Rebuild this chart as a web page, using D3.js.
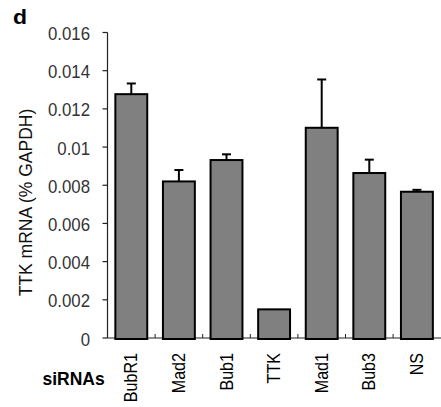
<!DOCTYPE html>
<html>
<head>
<meta charset="utf-8">
<script src="https://cdn.jsdelivr.net/npm/d3@7"></script>
<style>
  html, body { margin: 0; padding: 0; background: #fff; }
  svg { display: block; font-family: "Liberation Sans", Arial, sans-serif; }
</style>
</head>
<body>
<svg id="chart" width="441" height="407"></svg>
<script>
// TTK mRNA levels after each siRNA knockdown, relative to GAPDH
const categories = ["BubR1", "Mad2", "Bub1", "TTK", "Mad1", "Bub3", "NS"];
const means  = [0.01277, 0.0082, 0.00932, 0.0015, 0.01101, 0.00864, 0.00766];
const errors = [0.00056, 0.0006, 0.0003, 0, 0.00253, 0.0007, 0.0001];
const yTicks = [0, 0.002, 0.004, 0.006, 0.008, 0.01, 0.012, 0.014, 0.016];
const yTickLabels = ["0", "0.002", "0.004", "0.006", "0.008", "0.01", "0.012", "0.014", "0.016"];

const svg = d3.select("#chart");
const plotLeft = 107.5, plotRight = 441, plotTop = 32.5, plotBottom = 338;

const x = d3.scaleBand().domain(categories).range([plotLeft, plotLeft + 47.6 * 7])
  .paddingInner(0.33).paddingOuter(0.165);
const y = d3.scaleLinear().domain([0, 0.016]).range([plotBottom, plotTop]);

// text helper: scaled along (sx) and across (sy) the reading direction
function stretchedText(parent, tx, ty, rot, sx, sy, str, opts) {
  const g = parent.append("g").attr("transform", `translate(${tx},${ty}) rotate(${rot})`);
  return g.append("text")
    .attr("transform", `scale(${sx},${sy})`)
    .attr("font-size", opts.size)
    .attr("font-weight", opts.weight || "normal")
    .attr("text-anchor", opts.anchor || "start")
    .attr("fill", opts.fill || "#000")
    .text(str);
}

// y axis
svg.append("line").attr("x1", plotLeft).attr("x2", plotLeft).attr("y1", y(0.016)).attr("y2", plotBottom)
  .attr("stroke", "#222").attr("stroke-width", 1.2);
svg.selectAll(".ytick").data(yTicks).enter().append("line")
  .attr("x1", plotLeft - 5).attr("x2", plotLeft).attr("y1", d => y(d)).attr("y2", d => y(d))
  .attr("stroke", "#222").attr("stroke-width", 1.2);
yTicks.forEach((v, i) => {
  stretchedText(svg, 90, y(v) + 7.5, 0, 0.96, 1.1, yTickLabels[i], { size: 17.5, anchor: "end", fill: "#333" });
});

// x axis with small ticks between categories
svg.append("line").attr("x1", plotLeft).attr("x2", plotRight).attr("y1", plotBottom).attr("y2", plotBottom)
  .attr("stroke", "#222").attr("stroke-width", 1.2);
const gap = x.paddingInner() * x.step();
svg.selectAll(".xtick").data(categories.slice(1)).enter().append("line")
  .attr("x1", d => x(d) - gap / 2).attr("x2", d => x(d) - gap / 2)
  .attr("y1", plotBottom - 4).attr("y2", plotBottom)
  .attr("stroke", "#222").attr("stroke-width", 1);

// bars
svg.selectAll(".bar").data(categories).enter().append("rect")
  .attr("x", d => x(d))
  .attr("y", (d, i) => y(means[i]))
  .attr("width", x.bandwidth())
  .attr("height", (d, i) => plotBottom + 1 - y(means[i]))
  .attr("fill", "#808080")
  .attr("stroke", "#000")
  .attr("stroke-width", 2);

// error bars (upper only)
categories.forEach((c, i) => {
  if (errors[i] <= 0) return;
  const cx = x(c) + x.bandwidth() / 2;
  const yTop = y(means[i] + errors[i]);
  svg.append("line").attr("x1", cx).attr("x2", cx)
    .attr("y1", y(means[i])).attr("y2", yTop)
    .attr("stroke", "#000").attr("stroke-width", 2);
  svg.append("line").attr("x1", cx - 4.5).attr("x2", cx + 4.5)
    .attr("y1", yTop).attr("y2", yTop)
    .attr("stroke", "#000").attr("stroke-width", 2);
});

// category labels
categories.forEach(c => {
  const cx = x(c) + x.bandwidth() / 2;
  stretchedText(svg, cx + 6, 353, -90, 0.92, 1.05, c, { size: 17.5, anchor: "end" });
});

// axis title
stretchedText(svg, 32, 202.5, -90, 1.0, 1.0, "TTK mRNA (% GAPDH)", { size: 17.5, anchor: "middle", fill: "#111" });

// panel letter and row label
stretchedText(svg, 13, 24, 0, 1.15, 1.0, "d", { size: 20, weight: "bold" });
stretchedText(svg, 42.5, 385, 0, 1.0, 1.0, "siRNAs", { size: 17.5, weight: "bold" });
</script>
</body>
</html>
